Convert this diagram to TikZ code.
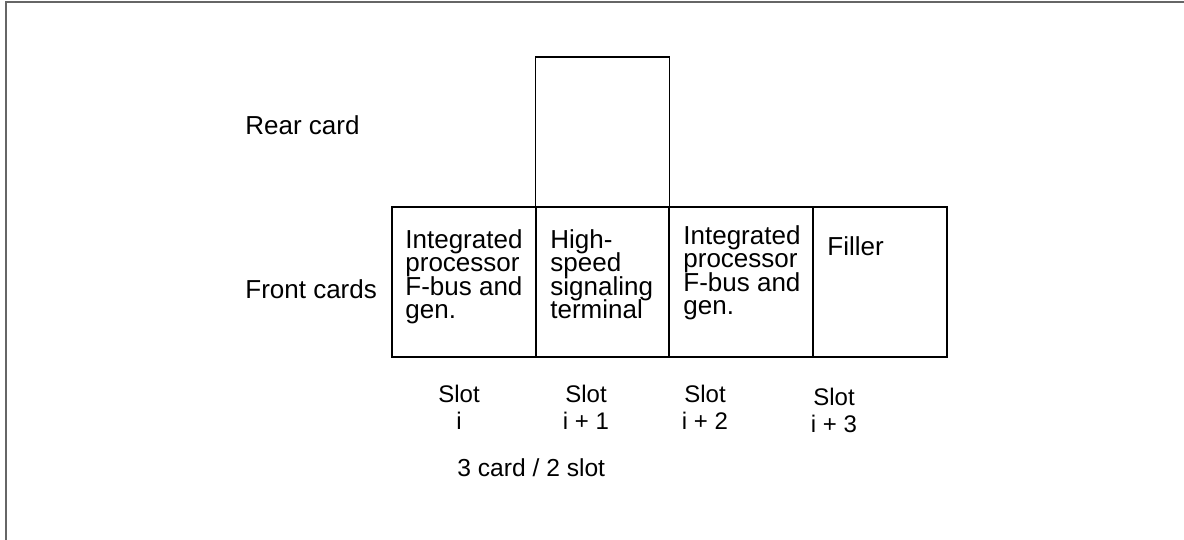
\documentclass[tikz,border=0pt]{standalone}
\usepackage{fontspec}
\setmainfont{Liberation Sans}
\usetikzlibrary{positioning}
\newcommand{\tightcardlines}{\lineskiplimit=-100pt\relax}

\begin{document}
\begin{tikzpicture}[x=0.5pt, y=-0.5pt,
    card/.style={draw, line width=0.7pt, minimum height=75pt, outer sep=0pt, inner sep=0pt},
    cardtext/.style={anchor=north west, inner sep=0pt, align=left,
        font=\fontsize{13}{11.75}\selectfont\tightcardlines},
    sidelabel/.style={anchor=base west, inner sep=0pt, font=\fontsize{13}{15}\selectfont},
    slotlabel/.style={anchor=north, inner sep=0pt, align=center, font=\fontsize{12}{13.5}\selectfont}]

    \useasboundingbox (0,0) rectangle (1184,540);

    % Frame (top and left edges only)
    \draw[gray!80!black, line width=1pt] (5.5,540) -- (5.5,2) -- (1184,2);

    % Front cards
    \node[card, minimum width=72pt, anchor=north west] (ipfb1) at (392,207) {};
    \node[card, minimum width=66.5pt, right=0pt of ipfb1] (hsst) {};
    \node[card, minimum width=72pt, right=0pt of hsst] (ipfb2) {};
    \node[card, minimum width=67pt, right=0pt of ipfb2] (filler) {};
    \draw[line width=1pt] (filler.north west) -- (filler.south west);

    % Rear card
    \node[card, minimum width=67pt, above=0pt of hsst] (rear) {};

    % Card texts
    \node[cardtext] (ipfb1text) at ([shift={(13,22)}]ipfb1.north west) {Integrated\\processor\\F-bus and\\gen.};
    \node[cardtext] (hssttext) at ([shift={(14,22)}]hsst.north west) {High-\\speed\\signaling\\terminal};
    \node[cardtext] (ipfb2text) at ([shift={(14,18)}]ipfb2.north west) {Integrated\\processor\\F-bus and\\gen.};
    \node[cardtext] (fillertext) at ([shift={(14,29)}]filler.north west) {Filler};

    % Row labels
    \node[sidelabel] (rearlabel) at (245,135) {Rear card};
    \node[sidelabel] (frontlabel) at (245,298) {Front cards};

    % Slot labels
    \node[slotlabel] (sloti) at (459,385) {Slot\\i};
    \node[slotlabel] (slotiA) at (586,385) {Slot\\i + 1};
    \node[slotlabel] (slotiB) at (705,385) {Slot\\i + 2};
    \node[slotlabel] (slotiC) at (834,388) {Slot\\i + 3};

    \node[anchor=base west, inner sep=0pt, font=\fontsize{12.3}{14}\selectfont] (ratio) at (457,476) {3 card / 2 slot};
\end{tikzpicture}
\end{document}
